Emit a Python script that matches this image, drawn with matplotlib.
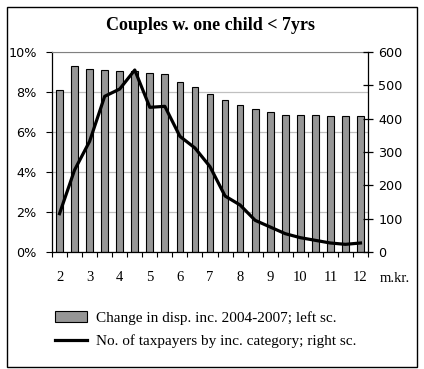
import matplotlib.pyplot as plt
from matplotlib.patches import Rectangle

# income categories (m.kr.), every half million
income = [2, 2.5, 3, 3.5, 4, 4.5, 5, 5.5, 6, 6.5, 7, 7.5, 8, 8.5, 9, 9.5, 10, 10.5, 11, 11.5, 12]
xlabels = ['2', '3', '4', '5', '6', '7', '8', '9', '10', '11', '12']

# change in disposable income 2004-2007 (%), left scale
change_pct = [8.12, 9.28, 9.17, 9.12, 9.07, 9.05, 8.97, 8.92, 8.52, 8.27, 7.92,
              7.62, 7.37, 7.17, 7.02, 6.87, 6.87, 6.87, 6.82, 6.82, 6.82]
# number of taxpayers by income category, right scale
taxpayers = [115, 246, 332, 467, 489, 546, 434, 437, 347, 312, 256,
             168, 141, 95, 75, 55, 43, 35, 27, 23, 27]

serif = 'Liberation Serif'
sans = 'DejaVu Sans'

fig = plt.figure(figsize=(4.24, 3.69), dpi=100)
ax = fig.add_axes([52/424, 117/369, 316/424, 200/369])

pos = list(range(len(income)))
bars = ax.bar(pos, change_pct, width=0.45, color='#969696', edgecolor='black',
              linewidth=0.8, label='Change in disp. inc. 2004-2007; left sc.', zorder=2)
ax.set_xlim(-0.5, len(income) - 0.5)
ax.set_ylim(0, 10)
ax.set_yticks([0, 2, 4, 6, 8, 10])
ax.set_yticklabels(['%d%%' % v for v in [0, 2, 4, 6, 8, 10]], fontfamily=sans, fontsize=9.2)
ax.yaxis.grid(True, color='#c0c0c0', linewidth=0.9)
ax.set_axisbelow(True)
ax.tick_params(axis='y', direction='out', length=4, width=0.8, pad=7)

# category labels every other bar, tick marks between bars
ax.set_xticks(pos[::2])
ax.set_xticklabels(xlabels, fontfamily=serif, fontsize=10.5)
ax.set_xticks([p - 0.5 for p in pos] + [pos[-1] + 0.5], minor=True)
ax.tick_params(axis='x', which='major', length=0, pad=14)
ax.tick_params(axis='x', which='minor', direction='out', length=3.5, width=0.8)

for s in ['left', 'bottom']:
    ax.spines[s].set_color('black')
    ax.spines[s].set_linewidth(0.9)
ax.spines['top'].set_color('#808080')
ax.spines['right'].set_visible(False)

ax2 = ax.twinx()
line, = ax2.plot(pos, taxpayers, color='black', linewidth=2.3,
                 label='No. of taxpayers by inc. category; right sc.', zorder=3)
ax2.set_ylim(0, 600)
ax2.set_yticks(range(0, 601, 100))
ax2.set_yticklabels([str(v) for v in range(0, 601, 100)], fontfamily=sans, fontsize=9.2)
ax2.tick_params(axis='y', direction='inout', length=7, width=0.9, pad=4)
ax2.spines['right'].set_color('black')
ax2.spines['right'].set_linewidth(0.9)
ax2.spines['top'].set_visible(False)
ax2.spines['left'].set_visible(False)
ax2.spines['bottom'].set_visible(False)

fig.text(211/424, 1 - 25/369, 'Couples w. one child < 7yrs', ha='center', va='center',
         fontfamily=serif, fontweight='bold', fontsize=13)
fig.text(395/424, 1 - 278/369, 'm.kr.', ha='center', va='center',
         fontfamily=serif, fontsize=10.5)

fig.legend(handles=[bars, line], loc='upper left', bbox_to_anchor=(55/424, 1 - 311/369),
           frameon=False, prop={'family': serif, 'size': 11}, handlelength=2.1,
           handletextpad=0.6, labelspacing=0.65, borderpad=0, borderaxespad=0)

# outer chart border
fig.add_artist(Rectangle((7/424, 2/369), 410/424, 360/369, transform=fig.transFigure,
                         fill=False, edgecolor='black', linewidth=1))

fig.savefig('out.png', dpi=100)
